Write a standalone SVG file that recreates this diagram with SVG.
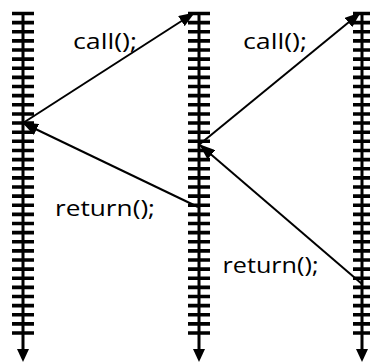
<svg xmlns="http://www.w3.org/2000/svg" width="371" height="363" viewBox="0 0 371 363">
  <style>
    .spine { stroke: #000; stroke-width: 3; fill: none; }
    .ticks { stroke: #000; stroke-width: 22; stroke-dasharray: 3.6 5.53; fill: none; }
    .ticks.narrow { stroke-width: 17; }
    .head { fill: #000; }
    .conn { stroke: #000; stroke-width: 2; fill: none; marker-end: url(#arr); }
    .lbl { font-family: "Open Sans", "Liberation Sans", sans-serif; font-weight: 400; font-size: 22px; fill: #000; }
  </style>
  <defs>
    <marker id="arr" markerUnits="userSpaceOnUse" markerWidth="16" markerHeight="12" viewBox="0 0 16 12" refX="15" refY="6" orient="auto">
      <path d="M0,0 L16,6 L0,12 z" fill="#000"/>
    </marker>
  </defs>
  <g id="lifeline-left">
    <line class="spine" x1="23" y1="12" x2="23" y2="352"/>
    <line class="ticks" x1="23" y1="11.7" x2="23" y2="335.2"/>
    <path class="head" d="M17,349 L29,349 L23,362 z"/>
  </g>
  <g id="lifeline-middle">
    <line class="spine" x1="199" y1="12" x2="199" y2="352"/>
    <line class="ticks" x1="199" y1="11.7" x2="199" y2="335.2"/>
    <path class="head" d="M193,349 L205,349 L199,362 z"/>
  </g>
  <g id="lifeline-right">
    <line class="spine" x1="362" y1="12" x2="362" y2="352"/>
    <line class="ticks narrow" x1="361.5" y1="11.7" x2="361.5" y2="335.2"/>
    <path class="head" d="M356,349 L368,349 L362,362 z"/>
  </g>
  <g id="connectors">
    <line class="conn" x1="23" y1="123" x2="194" y2="13"/>
    <line class="conn" x1="198" y1="207" x2="23" y2="123"/>
    <line class="conn" x1="200" y1="144" x2="360" y2="13"/>
    <line class="conn" x1="362" y1="284" x2="200" y2="145"/>
  </g>
  <g id="labels">
    <text class="lbl" x="73" y="48.5" textLength="64" lengthAdjust="spacingAndGlyphs">call();</text>
    <text class="lbl" x="55" y="216" textLength="100" lengthAdjust="spacingAndGlyphs">return();</text>
    <text class="lbl" x="243" y="48.5" textLength="64" lengthAdjust="spacingAndGlyphs">call();</text>
    <text class="lbl" x="222.5" y="273.3" textLength="96" lengthAdjust="spacingAndGlyphs">return();</text>
  </g>
</svg>
